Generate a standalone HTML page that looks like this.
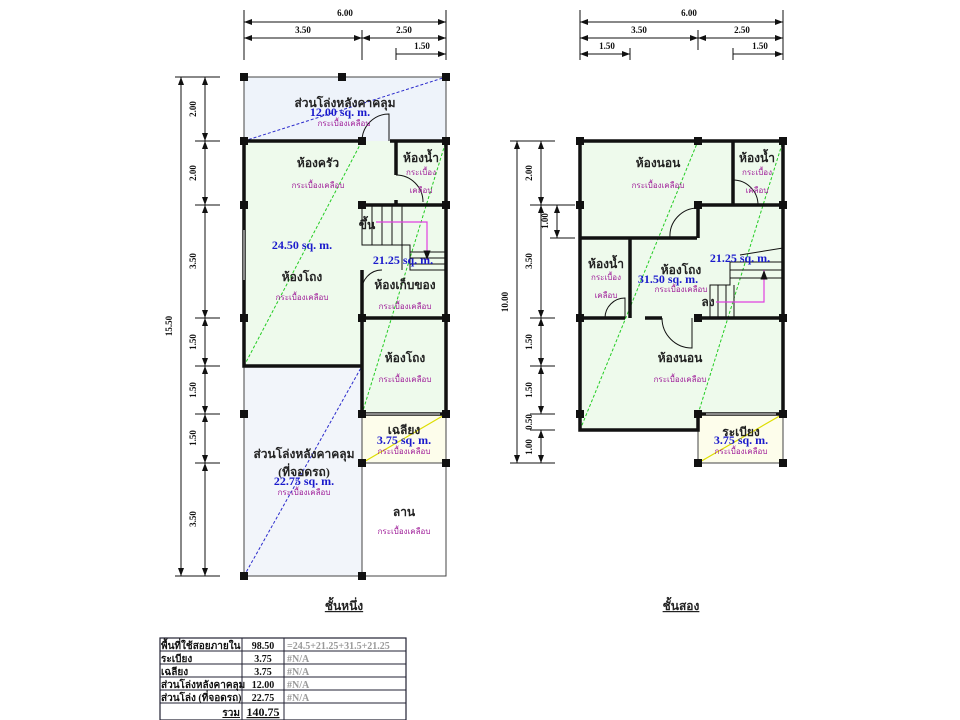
<!DOCTYPE html>
<html><head><meta charset="utf-8"><style>
body{margin:0;background:#fff}
svg{display:block}
text{font-family:"Liberation Serif","Noto Serif CJK SC","Noto Sans CJK SC",serif;font-weight:bold}
.t{font-size:12px;fill:#222;text-anchor:middle}
.s{font-size:8px;fill:#a0209a;text-anchor:middle;font-weight:normal}
.a{font-size:12px;fill:#1a1acc;text-anchor:middle}
.d{font-size:9px;fill:#111;text-anchor:middle}
.w{stroke:#111;stroke-width:3.5;fill:none}
.l{stroke:#444;stroke-width:1;fill:none}
.k{stroke:#111;stroke-width:1;fill:none}
.tb{font-size:10px;fill:#111;font-family:"Liberation Sans","Noto Sans CJK SC",sans-serif;font-weight:bold}
</style></head><body>
<svg width="960" height="720" viewBox="0 0 960 720" xmlns="http://www.w3.org/2000/svg">
<defs>
<marker id="ar" markerWidth="8" markerHeight="6" refX="8" refY="3" orient="auto-start-reverse"><path d="M0,0L8,3L0,6z" fill="#111"/></marker>
</defs>

<rect x="244" y="77" width="202" height="64" fill="#eef3fa"/>
<rect x="244" y="141" width="202" height="225" fill="#eefaec"/>
<rect x="362" y="318" width="84" height="96" fill="#eefaec"/>
<rect x="244" y="366" width="118" height="210" fill="#f2f5fa"/>
<rect x="362" y="414" width="84" height="49" fill="#fdfdeb"/>
<line x1="244" y1="141" x2="446" y2="77" stroke="#2a2acc" stroke-dasharray="3,2"/>
<line x1="244" y1="366" x2="362" y2="141" stroke="#2c2" stroke-dasharray="3,2"/>
<line x1="362" y1="414" x2="446" y2="141" stroke="#2c2" stroke-dasharray="3,2"/>
<line x1="244" y1="576" x2="362" y2="366" stroke="#2a2acc" stroke-dasharray="3,2"/>
<line x1="362" y1="463" x2="446" y2="414" stroke="#dd0" stroke-width="1.2"/>
<path class="l" d="M244,77H446V141M244,77V141M244,366V576H446V414M362,463H446M362,366V576"/>
<path class="w" d="M244,141H362M390,141H446V414M244,141V366H362V414H446M396,141V175M396,200V205M362,205H446M362,270V318H446M362,318V366M244,230V280"/>
<line x1="244" y1="230" x2="244" y2="280" stroke="#fff" stroke-width="1"/>
<line x1="366" y1="414" x2="440" y2="414" stroke="#fff" stroke-width="1"/>
<path class="k" d="M362,141A27,27 0 0 1 389,114V141"/>
<path class="k" d="M396,175A27,27 0 0 1 423,202"/>
<path class="k" d="M362,292A20,20 0 0 1 382,270"/>
<path class="k" d="M362,205V245H410V270H446M372,205V245M382,205V245M392,205V245M402,205V245M410,252H446M410,258H446M410,264H446M402,245V270"/>
<path d="M376,222H427V260" stroke="#e040e0" fill="none" stroke-width="1.2" marker-end="url(#ar)"/>
<g fill="#111">
<rect x="240" y="73" width="8" height="8"/><rect x="338" y="73" width="8" height="8"/><rect x="442" y="73" width="8" height="8"/>
<rect x="240" y="137" width="8" height="8"/><rect x="358" y="137" width="8" height="8"/><rect x="442" y="137" width="8" height="8"/>
<rect x="240" y="201" width="8" height="8"/><rect x="358" y="201" width="8" height="8"/><rect x="442" y="201" width="8" height="8"/>
<rect x="240" y="314" width="8" height="8"/><rect x="358" y="314" width="8" height="8"/><rect x="442" y="314" width="8" height="8"/>
<rect x="240" y="410" width="8" height="8"/><rect x="358" y="410" width="8" height="8"/><rect x="442" y="410" width="8" height="8"/>
<rect x="358" y="459" width="8" height="8"/><rect x="442" y="459" width="8" height="8"/>
<rect x="240" y="572" width="8" height="8"/><rect x="358" y="572" width="8" height="8"/>
</g>
<text class="t" x="345" y="107">ส่วนโล่งหลังคาคลุม</text>
<text class="a" x="340" y="116">12.00 sq. m.</text>
<text class="s" x="344" y="126">กระเบื้องเคลือบ</text>
<text class="t" x="318" y="167">ห้องครัว</text>
<text class="s" x="318" y="188">กระเบื้องเคลือบ</text>
<text class="t" x="421" y="162">ห้องน้ำ</text>
<text class="s" x="421" y="175">กระเบื้อง</text>
<text class="s" x="421" y="193">เคลือบ</text>
<text class="a" x="302" y="249">24.50 sq. m.</text>
<text class="t" x="302" y="281">ห้องโถง</text>
<text class="s" x="302" y="300">กระเบื้องเคลือบ</text>
<text class="t" x="367" y="229">ขึ้น</text>
<text class="a" x="403" y="264">21.25 sq. m.</text>
<text class="t" x="405" y="289">ห้องเก็บของ</text>
<text class="s" x="405" y="309">กระเบื้องเคลือบ</text>
<text class="t" x="405" y="362">ห้องโถง</text>
<text class="s" x="405" y="382">กระเบื้องเคลือบ</text>
<text class="t" x="404" y="434">เฉลียง</text>
<text class="a" x="404" y="444">3.75 sq. m.</text>
<text class="s" x="404" y="454">กระเบื้องเคลือบ</text>
<text class="t" x="304" y="458">ส่วนโล่งหลังคาคลุม</text>
<text class="t" x="304" y="476">(ที่จอดรถ)</text>
<text class="a" x="304" y="485">22.75 sq. m.</text>
<text class="s" x="304" y="495">กระเบื้องเคลือบ</text>
<text class="t" x="404" y="516">ลาน</text>
<text class="s" x="404" y="534">กระเบื้องเคลือบ</text>
<text class="t" x="344" y="610" text-decoration="underline">ชั้นหนึ่ง</text>

<g class="k">
<path d="M244,10V60M446,10V60M362,30V60M396,48V60"/>
<line x1="244" y1="22" x2="446" y2="22" marker-start="url(#ar)" marker-end="url(#ar)"/>
<line x1="244" y1="38" x2="362" y2="38" marker-start="url(#ar)" marker-end="url(#ar)"/>
<line x1="362" y1="38" x2="446" y2="38" marker-start="url(#ar)" marker-end="url(#ar)"/>
<line x1="396" y1="54" x2="446" y2="54" marker-end="url(#ar)"/>
</g>
<text class="d" x="345" y="16">6.00</text><text class="d" x="303" y="33">3.50</text><text class="d" x="404" y="33">2.50</text><text class="d" x="422" y="49">1.50</text>
<g class="k">
<path d="M175,77H220M175,576H220M195,141H220M195,205H220M195,318H220M195,366H220M195,414H220M195,463H220"/>
<line x1="181" y1="77" x2="181" y2="576" marker-start="url(#ar)" marker-end="url(#ar)"/>
<line x1="205" y1="77" x2="205" y2="141" marker-start="url(#ar)" marker-end="url(#ar)"/>
<line x1="205" y1="141" x2="205" y2="205" marker-start="url(#ar)" marker-end="url(#ar)"/>
<line x1="205" y1="205" x2="205" y2="318" marker-start="url(#ar)" marker-end="url(#ar)"/>
<line x1="205" y1="318" x2="205" y2="366" marker-start="url(#ar)" marker-end="url(#ar)"/>
<line x1="205" y1="366" x2="205" y2="414" marker-start="url(#ar)" marker-end="url(#ar)"/>
<line x1="205" y1="414" x2="205" y2="463" marker-start="url(#ar)" marker-end="url(#ar)"/>
<line x1="205" y1="463" x2="205" y2="576" marker-start="url(#ar)" marker-end="url(#ar)"/>
</g>
<g class="d">
<text transform="translate(172,326) rotate(-90)">15.50</text>
<text transform="translate(196,109) rotate(-90)">2.00</text>
<text transform="translate(196,173) rotate(-90)">2.00</text>
<text transform="translate(196,261) rotate(-90)">3.50</text>
<text transform="translate(196,342) rotate(-90)">1.50</text>
<text transform="translate(196,390) rotate(-90)">1.50</text>
<text transform="translate(196,438) rotate(-90)">1.50</text>
<text transform="translate(196,519) rotate(-90)">3.50</text>
</g>

<path d="M580,141H783V414H698V430H580z" fill="#eefaec"/>
<rect x="698" y="414" width="85" height="49" fill="#fdfdeb"/>
<line x1="580" y1="430" x2="698" y2="141" stroke="#2c2" stroke-dasharray="3,2"/>
<line x1="698" y1="414" x2="783" y2="141" stroke="#2c2" stroke-dasharray="3,2"/>
<line x1="698" y1="463" x2="783" y2="414" stroke="#dd0" stroke-width="1.2"/>
<path class="l" d="M698,414V463H783V414"/>
<path class="w" d="M580,141H783V414H698V430H580V141M733,141V205M698,205H783M580,238H697M630,238V318M580,318H625M645,318H662M698,318H783M698,205V238"/>
<line x1="706" y1="414" x2="776" y2="414" stroke="#fff" stroke-width="1"/>
<path class="k" d="M733,180A25,25 0 0 1 758,205"/>
<path class="k" d="M698,208A28,28 0 0 0 670,238"/>
<path class="k" d="M605,318A20,20 0 0 1 625,298V318"/>
<path class="k" d="M662,318A30,30 0 0 0 692,348V318"/>
<path class="k" d="M710,318V285H730V262H783M718,285V318M726,285V318M734,285V318M730,270H783M730,278H783M740,255L783,248"/>
<path d="M716,302H764V270" stroke="#e040e0" fill="none" stroke-width="1.2" marker-end="url(#ar)"/>
<g fill="#111">
<rect x="576" y="137" width="8" height="8"/><rect x="694" y="137" width="8" height="8"/><rect x="779" y="137" width="8" height="8"/>
<rect x="576" y="201" width="8" height="8"/><rect x="694" y="201" width="8" height="8"/><rect x="779" y="201" width="8" height="8"/>
<rect x="576" y="314" width="8" height="8"/><rect x="694" y="314" width="8" height="8"/><rect x="779" y="314" width="8" height="8"/>
<rect x="576" y="410" width="8" height="8"/><rect x="694" y="410" width="8" height="8"/><rect x="779" y="410" width="8" height="8"/>
<rect x="694" y="459" width="8" height="8"/><rect x="779" y="459" width="8" height="8"/>
</g>
<text class="t" x="658" y="167">ห้องนอน</text>
<text class="s" x="658" y="188">กระเบื้องเคลือบ</text>
<text class="t" x="757" y="162">ห้องน้ำ</text>
<text class="s" x="757" y="175">กระเบื้อง</text>
<text class="s" x="757" y="193">เคลือบ</text>
<text class="t" x="606" y="268">ห้องน้ำ</text>
<text class="s" x="606" y="280">กระเบื้อง</text>
<text class="s" x="606" y="298">เคลือบ</text>
<text class="t" x="681" y="274">ห้องโถง</text>
<text class="a" x="668" y="283">31.50 sq. m.</text>
<text class="s" x="681" y="292">กระเบื้องเคลือบ</text>
<text class="a" x="740" y="262">21.25 sq. m.</text>
<text class="t" x="708" y="306">ลง</text>
<text class="t" x="680" y="362">ห้องนอน</text>
<text class="s" x="680" y="382">กระเบื้องเคลือบ</text>
<text class="t" x="741" y="436">ระเบียง</text>
<text class="a" x="741" y="444">3.75 sq. m.</text>
<text class="s" x="741" y="454">กระเบื้องเคลือบ</text>
<text class="t" x="681" y="610" text-decoration="underline">ชั้นสอง</text>

<g class="k">
<path d="M580,10V60M783,10V60M698,30V50M630,48V60M733,48V60"/>
<line x1="580" y1="22" x2="783" y2="22" marker-start="url(#ar)" marker-end="url(#ar)"/>
<line x1="580" y1="38" x2="698" y2="38" marker-start="url(#ar)" marker-end="url(#ar)"/>
<line x1="698" y1="38" x2="783" y2="38" marker-start="url(#ar)" marker-end="url(#ar)"/>
<line x1="580" y1="54" x2="630" y2="54" marker-start="url(#ar)" marker-end="url(#ar)"/>
<line x1="733" y1="54" x2="783" y2="54" marker-end="url(#ar)"/>
</g>
<text class="d" x="689" y="16">6.00</text><text class="d" x="639" y="33">3.50</text><text class="d" x="742" y="33">2.50</text><text class="d" x="607" y="49">1.50</text><text class="d" x="760" y="49">1.50</text>
<g class="k">
<path d="M510,141H555M510,463H555M530,205H575M550,238H575M530,318H555M530,366H555M530,414H555M530,430H555"/>
<line x1="517" y1="141" x2="517" y2="463" marker-start="url(#ar)" marker-end="url(#ar)"/>
<line x1="541" y1="141" x2="541" y2="205" marker-start="url(#ar)" marker-end="url(#ar)"/>
<line x1="541" y1="205" x2="541" y2="318" marker-start="url(#ar)" marker-end="url(#ar)"/>
<line x1="541" y1="318" x2="541" y2="366" marker-start="url(#ar)" marker-end="url(#ar)"/>
<line x1="541" y1="366" x2="541" y2="414" marker-start="url(#ar)" marker-end="url(#ar)"/>
<line x1="541" y1="430" x2="541" y2="463" marker-start="url(#ar)" marker-end="url(#ar)"/>
<line x1="557" y1="205" x2="557" y2="238" marker-start="url(#ar)" marker-end="url(#ar)"/>
</g>
<g class="d">
<text transform="translate(508,302) rotate(-90)">10.00</text>
<text transform="translate(532,173) rotate(-90)">2.00</text>
<text transform="translate(532,261) rotate(-90)">3.50</text>
<text transform="translate(532,342) rotate(-90)">1.50</text>
<text transform="translate(532,390) rotate(-90)">1.50</text>
<text transform="translate(532,422) rotate(-90)">0.50</text>
<text transform="translate(532,447) rotate(-90)">1.00</text>
<text transform="translate(548,221) rotate(-90)">1.00</text>
</g>

<rect x="160" y="638" width="246" height="82" fill="#fff" stroke="#223" stroke-width="1.2"/>
<path d="M242,638V720M284,638V720M160,651H406M160,664H406M160,677H406M160,690H406M160,703H406" stroke="#223" stroke-width="1"/>
<g class="tb">
<text x="161" y="649">พื้นที่ใช้สอยภายใน</text>
<text x="161" y="662">ระเบียง</text>
<text x="161" y="675">เฉลียง</text>
<text x="161" y="688">ส่วนโล่งหลังคาคลุม</text>
<text x="161" y="701">ส่วนโล่ง (ที่จอดรถ)</text>
<text x="240" y="716" text-anchor="end" text-decoration="underline">รวม</text>
<text x="263" y="649" text-anchor="middle" font-weight="normal">98.50</text>
<text x="263" y="662" text-anchor="middle" font-weight="normal">3.75</text>
<text x="263" y="675" text-anchor="middle" font-weight="normal">3.75</text>
<text x="263" y="688" text-anchor="middle" font-weight="normal">12.00</text>
<text x="263" y="701" text-anchor="middle" font-weight="normal">22.75</text>
<text x="263" y="716" text-anchor="middle" font-size="12" text-decoration="underline">140.75</text>
</g>
<g font-family="Liberation Serif,serif" font-size="10" fill="#999">
<text x="287" y="649">=24.5+21.25+31.5+21.25</text>
<text x="287" y="662">#N/A</text><text x="287" y="675">#N/A</text><text x="287" y="688">#N/A</text><text x="287" y="701">#N/A</text>
</g>
</svg>
</body></html>
